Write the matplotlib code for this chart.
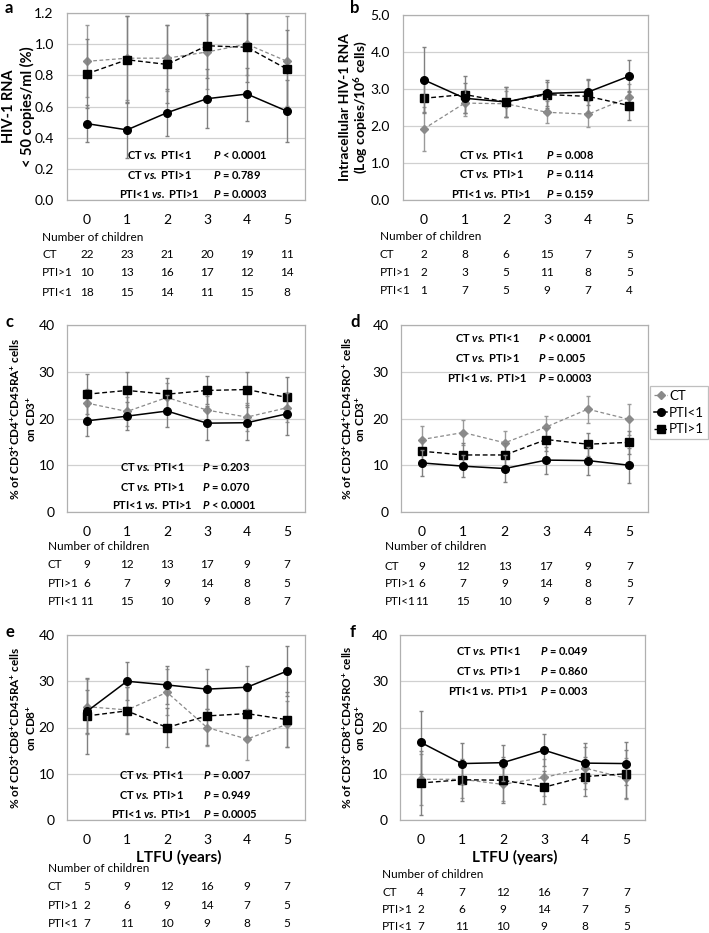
import numpy as np
import matplotlib
matplotlib.use('Agg')
import matplotlib.pyplot as plt
from matplotlib.lines import Line2D
from matplotlib.transforms import blended_transform_factory

plt.rcParams['font.family'] = 'Lato'
plt.rcParams['mathtext.fontset'] = 'custom'
plt.rcParams['mathtext.rm'] = 'Lato'
plt.rcParams['mathtext.it'] = 'Lato:italic'
plt.rcParams['mathtext.bf'] = 'Lato:bold'
plt.rcParams['mathtext.bfit'] = 'Lato:bold:italic'

years = [0, 1, 2, 3, 4, 5]

# panel a - plasma HIV-1 RNA < 50 copies/ml
a_ct = [0.89, 0.91, 0.91, 0.95, 1.00, 0.89]
a_ct_err = [0.23, 0.27, 0.21, 0.24, 0.20, 0.29]
a_lo = [0.49, 0.45, 0.56, 0.65, 0.68, 0.57]
a_lo_err = [0.12, 0.18, 0.15, 0.19, 0.17, 0.20]
a_hi = [0.81, 0.90, 0.87, 0.99, 0.98, 0.84]
a_hi_err = [0.22, 0.28, 0.25, 0.21, 0.22, 0.25]

# panel b - intracellular HIV-1 RNA
b_ct = [1.92, 2.62, 2.60, 2.37, 2.32, 2.78]
b_ct_err = [0.60, 0.35, 0.35, 0.30, 0.35, 0.35]
b_lo = [3.25, 2.75, 2.65, 2.88, 2.92, 3.35]
b_lo_err = [0.88, 0.40, 0.40, 0.35, 0.35, 0.43]
b_hi = [2.75, 2.85, 2.65, 2.85, 2.80, 2.55]
b_hi_err = [0.40, 0.50, 0.40, 0.35, 0.45, 0.40]

# panel c - CD4 CD45RA
c_ct = [23.3, 21.5, 24.5, 21.8, 20.3, 22.3]
c_ct_err = [3.0, 3.0, 3.0, 3.0, 3.0, 3.0]
c_lo = [19.5, 20.5, 21.6, 19.0, 19.1, 21.0]
c_lo_err = [3.2, 3.0, 3.4, 3.6, 3.7, 4.5]
c_hi = [25.2, 26.0, 25.2, 26.0, 26.2, 24.5]
c_hi_err = [4.3, 4.0, 3.5, 3.0, 3.7, 4.3]

# panel d - CD4 CD45RO
d_ct = [15.5, 17.0, 14.8, 18.2, 22.0, 19.8]
d_ct_err = [2.9, 2.6, 2.6, 2.3, 2.9, 3.3]
d_lo = [10.5, 9.8, 9.3, 11.1, 11.0, 10.0]
d_lo_err = [2.7, 2.4, 2.8, 2.9, 3.0, 3.7]
d_hi = [13.0, 12.2, 12.2, 15.5, 14.5, 14.9]
d_hi_err = [2.5, 2.5, 2.5, 2.5, 2.5, 2.5]

# panel e - CD8 CD45RA
e_ct = [24.5, 23.8, 27.6, 20.0, 17.5, 20.7]
e_ct_err = [6.0, 5.0, 5.0, 4.0, 4.6, 5.0]
e_lo = [23.5, 30.0, 29.2, 28.3, 28.7, 32.2]
e_lo_err = [4.7, 4.1, 4.2, 4.4, 4.7, 5.4]
e_hi = [22.5, 23.6, 20.0, 22.5, 23.0, 21.7]
e_hi_err = [8.2, 5.1, 4.3, 6.3, 5.0, 6.0]

# panel f - CD8 CD45RO
f_ct = [8.8, 8.8, 7.7, 9.2, 11.2, 9.0]
f_ct_err = [5.5, 4.0, 3.5, 4.0, 4.5, 4.5]
f_lo = [16.8, 12.2, 12.4, 15.1, 12.3, 12.2]
f_lo_err = [6.8, 4.4, 3.9, 3.5, 4.3, 4.6]
f_hi = [8.0, 8.7, 8.6, 7.1, 9.4, 10.0]
f_hi_err = [6.9, 4.5, 5.0, 3.6, 4.3, 5.2]

# number of children tables
a_n = [[22, 23, 21, 20, 19, 11], [10, 13, 16, 17, 12, 14], [18, 15, 14, 11, 15, 8]]
b_n = [[2, 8, 6, 15, 7, 5], [2, 3, 5, 11, 8, 5], [1, 7, 5, 9, 7, 4]]
c_n = [[9, 12, 13, 17, 9, 7], [6, 7, 9, 14, 8, 5], [11, 15, 10, 9, 8, 7]]
d_n = [[9, 12, 13, 17, 9, 7], [6, 7, 9, 14, 8, 5], [11, 15, 10, 9, 8, 7]]
e_n = [[5, 9, 12, 16, 9, 7], [2, 6, 9, 14, 7, 5], [7, 11, 10, 9, 8, 5]]
f_n = [[4, 7, 12, 16, 7, 7], [2, 6, 9, 14, 7, 5], [7, 11, 10, 9, 8, 5]]
row_names = ['CT', 'PTI>1', 'PTI<1']

cmp_labels = [r'CT $\mathbfit{vs.}$ PTI<1', r'CT $\mathbfit{vs.}$ PTI>1',
              r'PTI<1 $\mathbfit{vs.}$ PTI>1']
a_p = ['< 0.0001', '= 0.789', '= 0.0003']
b_p = ['= 0.008', '= 0.114', '= 0.159']
c_p = ['= 0.203', '= 0.070', '< 0.0001']
d_p = ['< 0.0001', '= 0.005', '= 0.0003']
e_p = ['= 0.007', '= 0.949', '= 0.0005']
f_p = ['= 0.049', '= 0.860', '= 0.003']

sup = r'$^{\mathbf{+}}$'
W, H = 709, 933

fig = plt.figure(figsize=(7.09, 9.33), dpi=100)


def add_panel(box, letter, letter_xy, ylabels, ylabel_xs, lab_size, ylim, yticks, ytfmt, ypad,
              ct, ct_err, lo, lo_err, hi, hi_err, counts, pvals, p_rows, p_x,
              tab_rows, tab_x, ltfu_y=None):
    x0, y0, x1, y1 = box
    ax = fig.add_axes([x0 / W, 1 - y1 / H, (x1 - x0) / W, (y1 - y0) / H])
    ax.errorbar(years, ct, yerr=ct_err, color='#8a8a8a', ls=(0, (3, 2)), lw=0.9,
                marker='D', ms=4, ecolor='#9a9a9a', elinewidth=1, capsize=1.5, zorder=3)
    ax.errorbar(years, hi, yerr=hi_err, color='black', ls=(0, (3.5, 2)), lw=1.0,
                marker='s', ms=6, ecolor='#808080', elinewidth=1, capsize=1.5, zorder=4)
    ax.errorbar(years, lo, yerr=lo_err, color='black', ls='-', lw=1.1,
                marker='o', ms=5.5, ecolor='#808080', elinewidth=1, capsize=1.5, zorder=5)
    ax.set_xlim(-0.5, 5.45)
    ax.set_ylim(*ylim)
    ax.set_yticks(yticks)
    ax.set_yticklabels([ytfmt.format(v) for v in yticks])
    ax.set_xticks(years)
    ax.tick_params(axis='x', length=0, pad=10, labelsize=10)
    ax.tick_params(axis='y', length=0, pad=ypad, labelsize=10)
    ax.grid(axis='y', color='#d0d0d0', lw=0.9)
    ax.set_axisbelow(True)
    for s in ax.spines.values():
        s.set_color('#b0b0b0')
        s.set_linewidth(0.9)

    fig.text(letter_xy[0] / W, 1 - letter_xy[1] / H, letter, fontsize=12,
             fontweight='bold', ha='left', va='center')
    for line, lx in zip(ylabels, ylabel_xs):
        fig.text(lx / W, 1 - ((y0 + y1) / 2) / H, line, rotation=90, ha='center',
                 va='center', fontsize=lab_size, fontweight='bold')

    for lab, p, yy in zip(cmp_labels, pvals, p_rows):
        ax.text(p_x[0], yy, lab, transform=ax.transAxes, ha='center', va='center',
                fontsize=8, fontweight='bold', zorder=6)
        ax.text(p_x[1], yy, r'$\mathbfit{P}$ ' + p, transform=ax.transAxes, ha='left',
                va='center', fontsize=8, fontweight='bold', zorder=6)

    trans = blended_transform_factory(ax.transData, ax.transAxes)
    ax.text(tab_x, tab_rows[0], 'Number of children', transform=ax.transAxes,
            ha='left', va='center', fontsize=8.5, clip_on=False)
    for name, row, yy in zip(row_names, counts, tab_rows[1:]):
        ax.text(tab_x, yy, name, transform=ax.transAxes, ha='left', va='center',
                fontsize=8.5, clip_on=False)
        for xv, n in zip(years, row):
            ax.text(xv, yy, str(n), transform=trans, ha='center', va='center',
                    fontsize=8.5, clip_on=False)
    if ltfu_y is not None:
        ax.text(0.47, ltfu_y, 'LTFU (years)', transform=ax.transAxes, ha='center',
                va='center', fontsize=11, fontweight='bold')
    return ax


add_panel((67, 13, 305, 200), 'a', (5, 8), ['HIV-1 RNA', '< 50 copies/ml (%)'], [9, 27], 10.5,
          (0, 1.2), [0, 0.2, 0.4, 0.6, 0.8, 1.0, 1.2], '{:.1f}', 9.5,
          a_ct, a_ct_err, a_lo, a_lo_err, a_hi, a_hi_err, a_n, a_p,
          [0.24, 0.134, 0.032], (0.387, 0.613), [-0.198, -0.294, -0.39, -0.492], -0.105)

add_panel((403, 15, 648, 200), 'b', (350, 8),
          ['Intracellular HIV-1 RNA', '(Log copies/10$^{\\mathbf{6}}$ cells)'], [345, 361], 10,
          (0, 5), [0, 1, 2, 3, 4, 5], '{:.1f}', 9.5,
          b_ct, b_ct_err, b_lo, b_lo_err, b_hi, b_hi_err, b_n, b_p,
          [0.245, 0.14, 0.035], (0.36, 0.584), [-0.196, -0.296, -0.39, -0.49], -0.094)

add_panel((67, 325, 305, 512), 'c', (5, 322),
          ['% of CD3' + sup + 'CD4' + sup + 'CD45RA' + sup + ' cells', 'on CD3' + sup], [15, 31], 8.5,
          (0, 40), [0, 10, 20, 30, 40], '{:.0f}', 9,
          c_ct, c_ct_err, c_lo, c_lo_err, c_hi, c_hi_err, c_n, c_p,
          [0.24, 0.134, 0.037], (0.36, 0.567), [-0.187, -0.283, -0.38, -0.476], -0.08)

ax_d = add_panel((401, 325, 648, 512), 'd', (350, 322),
                 ['% of CD3' + sup + 'CD4' + sup + 'CD45RO' + sup + ' cells', 'on CD3' + sup],
                 [347, 360], 8.5,
                 (0, 40), [0, 10, 20, 30, 40], '{:.0f}', 9,
                 d_ct, d_ct_err, d_lo, d_lo_err, d_hi, d_hi_err, d_n, d_p,
                 [0.93, 0.823, 0.717], (0.35, 0.555), [-0.187, -0.289, -0.385, -0.48], -0.065)

add_panel((67, 635, 305, 820), 'e', (5, 632),
          ['% of CD3' + sup + 'CD8' + sup + 'CD45RA' + sup + ' cells', 'on CD8' + sup], [15, 31], 8.5,
          (0, 40), [0, 10, 20, 30, 40], '{:.0f}', 9,
          e_ct, e_ct_err, e_lo, e_lo_err, e_hi, e_hi_err, e_n, e_p,
          [0.243, 0.135, 0.03], (0.353, 0.57), [-0.26, -0.362, -0.46, -0.557], -0.08,
          ltfu_y=-0.2)

add_panel((400, 635, 645, 820), 'f', (350, 632),
          ['% of CD3' + sup + 'CD8' + sup + 'CD45RO' + sup + ' cells', 'on CD3' + sup], [347, 360], 8.5,
          (0, 40), [0, 10, 20, 30, 40], '{:.0f}', 8.7,
          f_ct, f_ct_err, f_lo, f_lo_err, f_hi, f_hi_err, f_n, f_p,
          [0.913, 0.805, 0.697], (0.36, 0.57), [-0.292, -0.39, -0.486, -0.578], -0.073,
          ltfu_y=-0.2)

handles = [
    Line2D([], [], color='#8a8a8a', ls=(0, (3, 2)), lw=0.9, marker='D', ms=4),
    Line2D([], [], color='black', ls='-', lw=1.1, marker='o', ms=5.5),
    Line2D([], [], color='black', ls=(0, (3.5, 2)), lw=1.0, marker='s', ms=6),
]
leg = fig.legend(handles, ['CT', 'PTI<1', 'PTI>1'], loc='upper left',
                 bbox_to_anchor=(650 / W, 1 - 386 / H), fontsize=9.5, handlelength=1.0,
                 handletextpad=0.15, borderpad=0.3, labelspacing=0.35, fancybox=False,
                 borderaxespad=0)
leg.get_frame().set_edgecolor('#b0b0b0')
leg.get_frame().set_linewidth(0.9)

plt.savefig('out.png', dpi=100)
